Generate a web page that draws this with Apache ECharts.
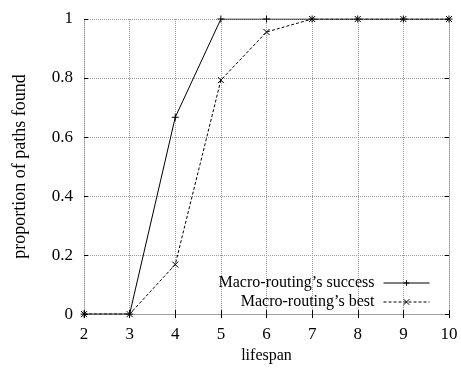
<!DOCTYPE html>
<html>
<head>
<meta charset="utf-8">
<script src="https://cdn.jsdelivr.net/npm/echarts@6/dist/echarts.min.js"></script>
<style>
  html, body { margin: 0; padding: 0; background: #fff; }
  #chart { width: 461px; height: 369px; }
</style>
</head>
<body>
<div id="chart"></div>
<script>
// lifespan values on the x axis
const lifespan = [2, 3, 4, 5, 6, 7, 8, 9, 10];
// proportion of paths found
const successValues = [0, 0, 0.667, 1, 1, 1, 1, 1, 1];
const bestValues = [0, 0, 0.168, 0.793, 0.956, 1, 1, 1, 1];
const yTicks = [0, 0.2, 0.4, 0.6, 0.8, 1];

const FONT = '"Liberation Serif", "DejaVu Serif", serif';
const PLUS = 'path://M0,5L10,5M5,0L5,10';
const CROSS = 'path://M0,0L10,10M10,0L0,10';

const chart = echarts.init(document.getElementById('chart'), null, { renderer: 'canvas' });

const gridLine = { show: true, lineStyle: { color: '#999', type: [1, 1], width: 1 } };
const tick = { show: true, inside: true, length: 4, lineStyle: { color: '#000' } };

function xAxis(pos, labels) {
  return {
    type: 'value', position: pos, min: 2, max: 10, interval: 1,
    name: labels ? 'lifespan' : '', nameLocation: 'middle', nameGap: 33,
    nameTextStyle: { fontFamily: FONT, fontSize: 16, color: '#000' },
    axisLine: { show: true, lineStyle: { color: '#999', type: [1, 1] } },
    axisTick: tick,
    axisLabel: { show: labels, fontFamily: FONT, fontSize: 17, color: '#000', margin: 12 },
    splitLine: labels ? gridLine : { show: false },
  };
}
function yAxis(pos, labels) {
  return {
    type: 'value', position: pos, min: 0, max: 1, interval: 0.2,
    name: labels ? 'proportion of paths found' : '', nameLocation: 'middle', nameGap: 55,
    nameTextStyle: { fontFamily: FONT, fontSize: 18, color: '#000' },
    axisLine: { show: true, lineStyle: { color: '#999', type: [1, 1] } },
    axisTick: tick,
    axisLabel: {
      show: labels, fontFamily: FONT, fontSize: 17, color: '#000', margin: 11,
      formatter: v => yTicks.includes(Math.round(v * 10) / 10) ? String(Math.round(v * 10) / 10) : '',
    },
    splitLine: labels ? gridLine : { show: false },
  };
}

function legend(name, top) {
  return {
    data: [name], right: 31, top: top, align: 'right', orient: 'vertical',
    itemWidth: 46, itemHeight: 7,
    lineStyle: { width: 1 },
    itemStyle: { borderWidth: 1 },
    textStyle: { fontFamily: FONT, fontSize: 16, color: '#000', padding: [0, 4, 0, 0] },
    padding: 0,
  };
}

chart.setOption({
  animation: false,
  backgroundColor: '#fff',
  grid: { left: 84, right: 12, top: 19, bottom: 54 },
  legend: [legend("Macro-routing’s success", 275), legend("Macro-routing’s best", 294)],
  xAxis: [xAxis('bottom', true), xAxis('top', false)],
  yAxis: [yAxis('left', true), yAxis('right', false)],
  series: [
    {
      name: "Macro-routing’s success", type: 'line',
      data: lifespan.map((x, i) => [x, successValues[i]]),
      symbol: PLUS, symbolSize: 7,
      lineStyle: { color: '#000', width: 1 },
      itemStyle: { color: 'transparent', borderColor: '#000', borderWidth: 1 },
    },
    {
      name: "Macro-routing’s best", type: 'line',
      data: lifespan.map((x, i) => [x, bestValues[i]]),
      symbol: CROSS, symbolSize: 6,
      lineStyle: { color: '#000', width: 1, type: [3, 2] },
      itemStyle: { color: 'transparent', borderColor: '#000', borderWidth: 1 },
    },
  ],
});
</script>
</body>
</html>
